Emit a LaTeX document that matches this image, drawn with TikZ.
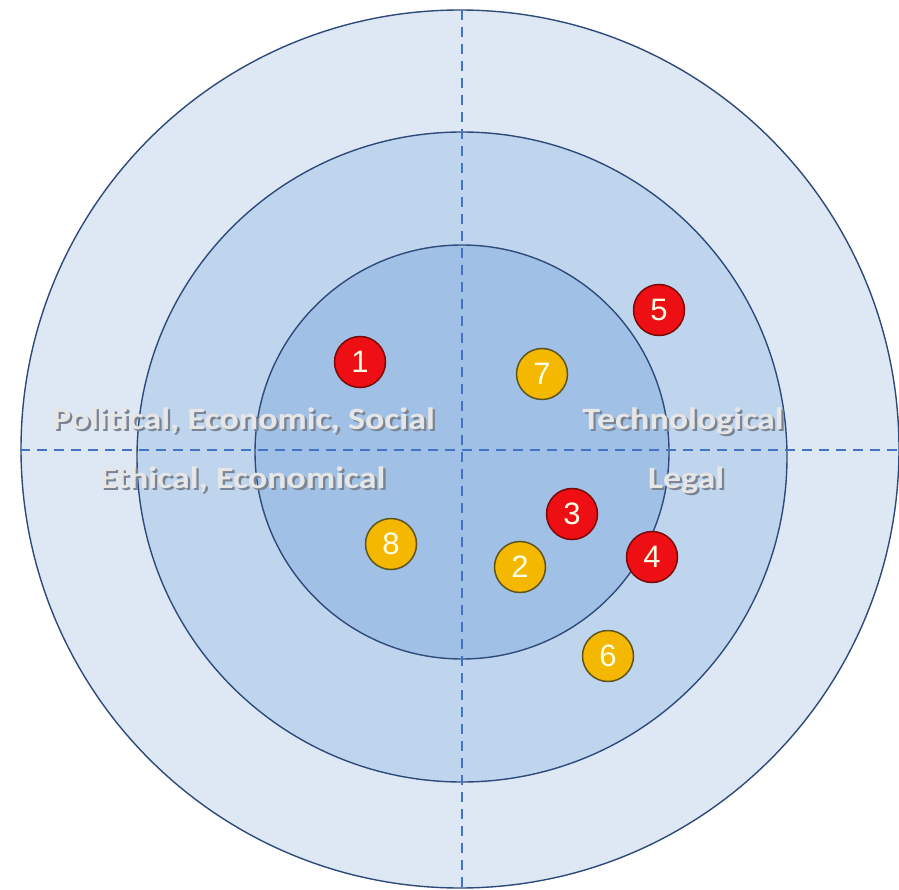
\documentclass[tikz,border=0pt]{standalone}
\usepackage{fontspec}
\setmainfont{Liberation Sans}
\newfontfamily\lblfont{Carlito}
\definecolor{ringA}{HTML}{DDE8F4}
\definecolor{ringB}{HTML}{BFD5ED}
\definecolor{ringC}{HTML}{A0C1E5}
\definecolor{ringline}{HTML}{2E4A7A}
\definecolor{dashcol}{HTML}{4472C4}
\definecolor{redfill}{HTML}{EE0F14}
\definecolor{redline}{HTML}{7A0A0A}
\definecolor{yelfill}{HTML}{F5B800}
\definecolor{yelline}{HTML}{5E5420}
\definecolor{lbltext}{HTML}{E6E6E6}
\definecolor{lblshadow}{HTML}{7A8494}
\newcommand{\shtext}[1]{\scalebox{1.16}[1]{\rlap{\hspace{2pt}\raisebox{-2pt}{\color{lblshadow}#1}}#1}}
\tikzset{
  ring/.style={draw=ringline, line width=1.4pt},
  axisline/.style={draw=dashcol, line width=2.7pt, dash pattern=on 10pt off 7pt},
  dot/.style={circle, minimum size=51pt, inner sep=0pt, line width=1.5pt, text=white!90!yellow,
    font=\fontsize{31}{31}\selectfont},
  reddot/.style={dot, fill=redfill, draw=redline},
  yeldot/.style={dot, fill=yelfill, draw=yelline},
  lbl/.style={font=\lblfont\bfseries\fontsize{31}{31}\selectfont, text=lbltext, inner sep=0pt, anchor=base},
}
\begin{document}
\begin{tikzpicture}[x=1pt,y=-1pt]
\useasboundingbox (0,0) rectangle (899,890);
% rings
\fill[ringA, ring] (460,449) circle (439);
\fill[ringB, ring] (462,457) circle (325);
\fill[ringC, ring] (462,452) circle (207);
% axes
\coordinate (hl) at (20,450);
\coordinate (hr) at (899,450);
\coordinate (vt) at (462,10);
\coordinate (vb) at (462,888);
\draw[axisline] (hl) -- (hr);
\draw[axisline] (vt) -- (vb);
% labels
\node[lbl] (t1) at (243.5,429.5) {\shtext{Political, Economic, Social}};
\node[lbl] (t2) at (242.5,488.5) {\shtext{Ethical, Economical}};
\node[lbl] (t3) at (683,429.5) {\shtext{Technological}};
\node[lbl] (t4) at (686,488.5) {\shtext{Legal}};
% dots
\node[reddot] (d1) at (360,362) {1};
\node[yeldot] (d2) at (520,567) {2};
\node[reddot] (d3) at (572,514) {3};
\node[reddot] (d4) at (652,557) {4};
\node[reddot] (d5) at (659,310) {5};
\node[yeldot] (d6) at (608,656) {6};
\node[yeldot] (d7) at (542,374) {7};
\node[yeldot] (d8) at (391,544) {8};
\end{tikzpicture}
\end{document}
